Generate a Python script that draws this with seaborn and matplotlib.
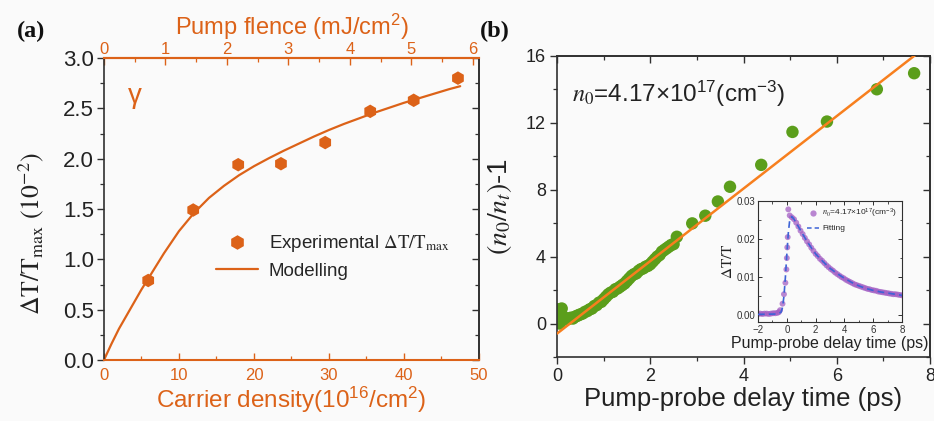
import matplotlib
matplotlib.use("Agg")
import matplotlib.pyplot as plt
import seaborn as sns
import pandas as pd
from matplotlib.lines import Line2D
from matplotlib.ticker import MultipleLocator, NullFormatter, FixedLocator

# ---------------- data ----------------
# Panel (a)
carrier_density = [5.9, 11.9, 17.9, 23.6, 29.5, 35.5, 41.3, 47.2]
dt_exp = [0.79, 1.49, 1.94, 1.95, 2.16, 2.47, 2.58, 2.80]
model_density = [0, 1, 2, 3, 4, 5, 6, 7, 8, 10, 12, 14, 16, 18, 20, 22, 24, 26, 28, 30,
                 32, 34, 36, 38, 40, 42, 44, 46, 47.5]
model_dt = [0, 0.16, 0.31, 0.44, 0.57, 0.70, 0.82, 0.94, 1.06, 1.28, 1.46, 1.61, 1.73,
            1.835, 1.925, 2.005, 2.08, 2.15, 2.22, 2.285, 2.345, 2.40, 2.455, 2.505, 2.555,
            2.60, 2.645, 2.69, 2.72]
fluence_ticks = [0, 1, 2, 3, 4, 5, 6]

# Panel (b)
delay_time = [0.02, 0.04, 0.06, 0.08, 0.10, 0.14, 0.18, 0.22, 0.26, 0.30, 0.34, 0.38, 0.42,
              0.46, 0.50, 0.55, 0.60, 0.65, 0.70, 0.75, 0.80, 0.85, 0.90, 0.95, 1.00, 1.05,
              1.10, 1.15, 1.20, 1.25, 1.30, 1.35, 1.40, 1.45, 1.50, 1.55, 1.60, 1.65, 1.70,
              1.75, 1.80, 1.85, 1.90, 1.95, 2.00, 2.05, 2.10, 2.15, 2.20, 2.25, 2.30, 2.35,
              2.40, 2.45, 2.50, 2.57, 2.90, 3.18, 3.45, 3.71, 4.38, 5.05, 5.79, 6.86, 7.66]
n_ratio = [0.85, 0.35, 0.0, 0.55, 0.9, 0.4, 0.3, 0.25, 0.3, 0.35, 0.3, 0.4, 0.45,
           0.5, 0.55, 0.6, 0.7, 0.75, 0.85, 0.9, 1.05, 1.1, 1.25, 1.3, 1.45, 1.6,
           1.75, 1.85, 1.9, 2.05, 2.1, 2.2, 2.3, 2.4, 2.55, 2.7, 2.85, 2.95, 3.0,
           3.15, 3.25, 3.3, 3.4, 3.45, 3.55, 3.7, 3.85, 4.0, 4.1, 4.3, 4.4, 4.5,
           4.6, 4.7, 4.75, 5.19, 5.99, 6.45, 7.30, 8.18, 9.49, 11.46, 12.08, 14.01, 14.97]
fit_time = [0.0, 7.75]
fit_ratio = [-0.6, 16.2]

# Inset
inset_time = [-2.0, -1.85, -1.7, -1.55, -1.4, -1.25, -1.1, -0.95, -0.8, -0.65, -0.55,
              -0.47, -0.3, -0.2, -0.1, -0.03, 0.0, 0.03, 0.06, 0.1,
              0.20, 0.35, 0.50, 0.65, 0.80, 0.95, 1.10, 1.25, 1.40, 1.55, 1.70, 1.85,
              2.00, 2.15, 2.30, 2.45, 2.60, 2.75, 2.90, 3.05, 3.20, 3.35, 3.50, 3.65,
              3.80, 3.95, 4.10, 4.25, 4.40, 4.55, 4.70, 4.85, 5.00, 5.15, 5.30, 5.45,
              5.60, 5.75, 5.90, 6.05, 6.20, 6.35, 6.50, 6.65, 6.80, 6.95, 7.10, 7.25,
              7.40, 7.55, 7.70, 7.85, 8.00]
inset_dt = [0.0003, 0.0004, 0.0003, 0.0004, 0.0004, 0.0003, 0.0004, 0.0005, 0.0005, 0.0006, 0.0008,
            0.0013, 0.0030, 0.0055, 0.0085, 0.0120, 0.0150, 0.0178, 0.0205, 0.0278,
            0.0262, 0.0257, 0.0252, 0.0243, 0.0233, 0.0222, 0.0213, 0.0203, 0.0194, 0.0186,
            0.0177, 0.0169, 0.0161, 0.0155, 0.0148, 0.0143, 0.0137, 0.0131, 0.0126, 0.0121,
            0.0117, 0.0112, 0.0108, 0.0104, 0.0100, 0.0097, 0.0093, 0.0090, 0.0087, 0.0084,
            0.0081, 0.0079, 0.0077, 0.0075, 0.0073, 0.0071, 0.0069, 0.0068, 0.0066, 0.0065,
            0.0064, 0.0062, 0.0061, 0.0060, 0.0059, 0.0058, 0.0057, 0.0056, 0.0055, 0.0055,
            0.0054, 0.0053, 0.0052]
fit_inset_time = [-2, -0.6, -0.4, -0.3, -0.2, -0.1, 0.0, 0.1, 0.2, 0.35, 0.5, 0.8, 1.1, 1.4,
                  1.7, 2.0, 2.5, 3.0, 3.5, 4.0, 4.5, 5.0, 5.5, 6.0, 6.5, 7.0, 7.5, 8.0]
fit_inset_dt = [0.0002, 0.0003, 0.0008, 0.0020, 0.0050, 0.0100, 0.0160, 0.0215, 0.0250,
                0.0259, 0.0252, 0.0233, 0.0213, 0.0194, 0.0177, 0.0161, 0.0141, 0.0123,
                0.0109, 0.0097, 0.0086, 0.0077, 0.0070, 0.0065, 0.0061, 0.0058, 0.0055, 0.0052]

# ---------------- style ----------------
sns.set_theme(style="ticks")
plt.rcParams["font.family"] = ["Liberation Sans", "DejaVu Sans"]
plt.rcParams["mathtext.fontset"] = "stix"

ORANGE_A = "#DC6218"
ORANGE_B = "#F77F1E"
GREEN = "#5B9E1B"
PURPLE = "#A35FC4"
BLUE = "#3D63D6"
DARK = "#303030"
BG = "#FAFAFA"

fig = plt.figure(figsize=(9.34, 4.21), dpi=100, facecolor=BG)

# ================= Panel (a) =================
ax = fig.add_axes([0.1113, 0.1449, 0.4015, 0.7173])
ax.set_facecolor(BG)
df_exp = pd.DataFrame({"x": carrier_density, "y": dt_exp})
df_mod = pd.DataFrame({"x": model_density, "y": model_dt})
sns.lineplot(data=df_mod, x="x", y="y", ax=ax, color=ORANGE_A, lw=1.6)
sns.scatterplot(data=df_exp, x="x", y="y", ax=ax, marker="h", s=95, color=ORANGE_A,
                edgecolor="none", zorder=3)
ax.set_xlim(0, 50)
ax.set_ylim(0, 3.0)
ax.xaxis.set_major_locator(MultipleLocator(10))
ax.xaxis.set_minor_locator(MultipleLocator(5))
ax.yaxis.set_major_locator(MultipleLocator(0.5))
ax.yaxis.set_minor_locator(MultipleLocator(0.25))
ax.set_yticks([0, 0.5, 1.0, 1.5, 2.0, 2.5, 3.0])
ax.set_yticklabels(["0.0", "0.5", "1.0", "1.5", "2.0", "2.5", "3.0"])
ax.tick_params(axis="y", which="major", direction="out", length=5, width=1.0,
               color=DARK, labelsize=16, labelcolor="#222222", pad=2, right=False)
ax.tick_params(axis="y", which="minor", direction="out", length=3, width=0.9, color=DARK,
               right=False)
ax.tick_params(axis="x", which="major", direction="in", length=5, width=1.0,
               color=ORANGE_A, labelsize=12, labelcolor=ORANGE_A, pad=6)
ax.tick_params(axis="x", which="minor", direction="in", length=3, width=0.9, color=ORANGE_A)
for s in ["left", "right"]:
    ax.spines[s].set_color(DARK)
    ax.spines[s].set_linewidth(1.2)
for s in ["top", "bottom"]:
    ax.spines[s].set_color(ORANGE_A)
    ax.spines[s].set_linewidth(1.5)
ax.set_xlabel(r"Carrier density(10$\mathregular{^{16}}$/cm$\mathregular{^{2}}$)",
              color=ORANGE_A, fontsize=17.5, labelpad=1)
ax.set_ylabel(r"$\Delta\mathrm{T/T}_{\mathrm{max}}\ (10^{-2})$", fontsize=18.5,
              color="#222222")
ax.yaxis.set_label_coords(-0.155, 0.42)

# right-side inward ticks
axr = ax.secondary_yaxis("right")
axr.yaxis.set_major_locator(FixedLocator([0, 0.5, 1.0, 1.5, 2.0, 2.5, 3.0]))
axr.yaxis.set_minor_locator(FixedLocator([0.25, 0.75, 1.25, 1.75, 2.25, 2.75]))
axr.yaxis.set_major_formatter(NullFormatter())
axr.tick_params(axis="y", which="major", direction="in", length=5, width=1.0, color=DARK,
                labelright=False)
axr.tick_params(axis="y", which="minor", direction="in", length=3, width=0.9, color=DARK)
axr.spines["right"].set_color(DARK)
axr.spines["right"].set_linewidth(1.2)

# top axis: pump fluence
axt = ax.secondary_xaxis("top", functions=(lambda x: x * 6.1 / 50, lambda p: p * 50 / 6.1))
axt.xaxis.set_major_locator(FixedLocator(fluence_ticks))
axt.xaxis.set_minor_locator(FixedLocator([0.5, 1.5, 2.5, 3.5, 4.5, 5.5]))
axt.tick_params(axis="x", which="major", direction="in", length=5, width=1.0,
                color=ORANGE_A, labelsize=12, labelcolor=ORANGE_A, pad=1)
axt.tick_params(axis="x", which="minor", direction="in", length=3, width=0.9, color=ORANGE_A)
axt.spines["top"].set_color(ORANGE_A)
axt.spines["top"].set_linewidth(1.5)
axt.set_xlabel(r"Pump flence (mJ/cm$\mathregular{^{2}}$)", color=ORANGE_A, fontsize=17,
               labelpad=5)

ax.text(0.065, 0.875, "γ", transform=ax.transAxes, color=ORANGE_A, fontsize=20,
        ha="left", va="center", family=["Liberation Sans", "DejaVu Sans"])

handles = [Line2D([], [], marker="h", ls="none", color=ORANGE_A, markersize=10.5,
                  markeredgecolor="none"),
           Line2D([], [], color=ORANGE_A, lw=1.6)]
leg = ax.legend(handles, [r"Experimental $\Delta\mathrm{T/T}_{\mathrm{max}}$", "Modelling"],
                loc="upper left", bbox_to_anchor=(0.28, 0.445), frameon=False,
                fontsize=13.5, handlelength=2.2, handletextpad=0.6, labelspacing=0.45,
                borderaxespad=0)

# ================= Panel (b) =================
bx = fig.add_axes([0.5964, 0.1520, 0.3993, 0.7150])
bx.set_facecolor(BG)
df_b = pd.DataFrame({"t": delay_time, "r": n_ratio})
df_fit = pd.DataFrame({"t": fit_time, "r": fit_ratio})
sns.scatterplot(data=df_b, x="t", y="r", ax=bx, s=80, color=GREEN, edgecolor="none",
                zorder=2)
sns.lineplot(data=df_fit, x="t", y="r", ax=bx, color=ORANGE_B, lw=1.8, zorder=3)
bx.set_xlim(0, 8)
bx.set_ylim(-2, 16)
bx.xaxis.set_major_locator(MultipleLocator(2))
bx.xaxis.set_minor_locator(MultipleLocator(1))
bx.yaxis.set_major_locator(MultipleLocator(4))
bx.yaxis.set_minor_locator(MultipleLocator(2))
bx.tick_params(axis="both", which="major", direction="out", length=5, width=1.0,
               color=DARK, labelsize=13, labelcolor="#222222", pad=3)
bx.tick_params(axis="both", which="minor", direction="out", length=3, width=0.9, color=DARK)
for s in bx.spines.values():
    s.set_color(DARK)
    s.set_linewidth(1.2)
bx.set_xlabel("Pump-probe delay time (ps)", fontsize=18.5, color="#222222", labelpad=1)
bx.set_ylabel(r"$(n_0/n_t)$-1", fontsize=20, color="#222222")
bx.yaxis.set_label_coords(-0.115, 0.50)

bxr = bx.secondary_yaxis("right")
bxr.yaxis.set_major_locator(FixedLocator([0, 4, 8, 12, 16]))
bxr.yaxis.set_minor_locator(FixedLocator([-2, 2, 6, 10, 14]))
bxr.yaxis.set_major_formatter(NullFormatter())
bxr.tick_params(axis="y", which="major", direction="in", length=5, width=1.0, color=DARK,
                labelright=False)
bxr.tick_params(axis="y", which="minor", direction="in", length=3, width=0.9, color=DARK)
bxr.spines["right"].set_color(DARK)
bxt = bx.secondary_xaxis("top")
bxt.xaxis.set_major_locator(FixedLocator([0, 2, 4, 6, 8]))
bxt.xaxis.set_minor_locator(FixedLocator([1, 3, 5, 7]))
bxt.xaxis.set_major_formatter(NullFormatter())
bxt.tick_params(axis="x", which="major", direction="in", length=5, width=1.0, color=DARK,
                labeltop=False)
bxt.tick_params(axis="x", which="minor", direction="in", length=3, width=0.9, color=DARK)
bxt.spines["top"].set_color(DARK)

bx.text(0.04, 0.875, r"$n_0$=4.17×10$\mathregular{^{17}}$(cm$\mathregular{^{-3}}$)",
        transform=bx.transAxes, fontsize=17.5, ha="left", va="center", color="#222222")

# ---------------- inset ----------------
ix = fig.add_axes([0.8116, 0.2352, 0.1542, 0.2874])
ix.set_facecolor(BG)
df_in = pd.DataFrame({"t": inset_time, "v": inset_dt})
df_infit = pd.DataFrame({"t": fit_inset_time, "v": fit_inset_dt})
sns.scatterplot(data=df_in, x="t", y="v", ax=ix, s=18, color=PURPLE, alpha=0.75,
                edgecolor="none", zorder=2)
sns.lineplot(data=df_infit, x="t", y="v", ax=ix, color=BLUE, lw=1.2, ls=(0, (4, 2.5)),
             zorder=3)
ix.set_xlim(-2, 8)
ix.set_ylim(-0.0018, 0.03)
ix.xaxis.set_major_locator(MultipleLocator(2))
ix.xaxis.set_minor_locator(MultipleLocator(1))
ix.yaxis.set_major_locator(MultipleLocator(0.01))
ix.yaxis.set_minor_locator(MultipleLocator(0.005))
ix.set_yticks([0, 0.01, 0.02, 0.03])
ix.set_yticklabels(["0.00", "0.01", "0.02", "0.03"])
ix.tick_params(axis="both", which="major", direction="in", length=3, width=0.7,
               color=DARK, labelsize=7, labelcolor="#333333", pad=2, top=True, right=True)
ix.tick_params(axis="both", which="minor", direction="in", length=1.8, width=0.6,
               color=DARK, top=True, right=True)
for s in ix.spines.values():
    s.set_color(DARK)
    s.set_linewidth(0.8)
ix.set_xlabel("Pump-probe delay time (ps)", fontsize=11.5, color="#222222", labelpad=1)
ix.set_ylabel(r"$\Delta\mathrm{T/T}$", fontsize=11, color="#222222", labelpad=1)
ih = [Line2D([], [], marker="o", ls="none", color=PURPLE, alpha=0.75, markersize=4.5,
             markeredgecolor="none"),
      Line2D([], [], color=BLUE, lw=1.1, ls=(0, (3, 2)))]
ix.legend(ih, [r"$n_0$=4.17×10$\mathregular{^{17}}$(cm$\mathregular{^{-3}}$)", "Fitting"],
          loc="upper right", bbox_to_anchor=(1.0, 0.99), frameon=False, fontsize=6,
          handlelength=1.4, handletextpad=0.4, labelspacing=0.5, borderaxespad=0.2)

# panel labels
fig.text(0.018, 0.925, "(a)", fontsize=17.5, fontweight="bold", family="Liberation Serif",
         ha="left", va="center", color="#111111")
fig.text(0.514, 0.925, "(b)", fontsize=17.5, fontweight="bold", family="Liberation Serif",
         ha="left", va="center", color="#111111")

fig.savefig("out.png", dpi=100, facecolor=BG)
